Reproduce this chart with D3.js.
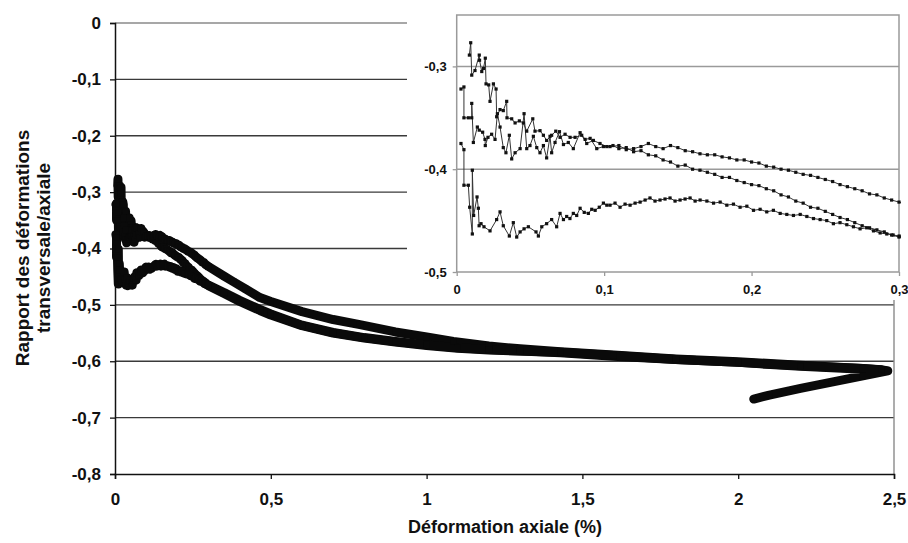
<!DOCTYPE html>
<html>
<head>
<meta charset="utf-8">
<script src="https://cdn.jsdelivr.net/npm/d3@7"></script>
<style>
  body { margin: 0; background: #fff; }
  svg { display: block; font-family: Arial, "Liberation Sans", sans-serif; }
  .tick text { font-weight: bold; }
</style>
</head>
<body>
<svg id="chart" width="908" height="543"></svg>
<script>
// tick values
const mainXTicks = [0, 0.5, 1, 1.5, 2, 2.5];
const mainYTicks = [0, -0.1, -0.2, -0.3, -0.4, -0.5, -0.6, -0.7, -0.8];
const insetXTicks = [0, 0.1, 0.2, 0.3];
const insetYTicks = [-0.3, -0.4, -0.5];

// three loading curves, [axial strain %, ratio]
const curveA = [
  [0.0086,-0.289],[0.0095,-0.277],[0.0102,-0.3085],[0.0124,-0.304],[0.0153,-0.289],[0.0155,-0.294],
  [0.0170,-0.305],[0.0182,-0.302],[0.0194,-0.292],[0.0199,-0.317],[0.0217,-0.318],[0.0226,-0.334],
  [0.0249,-0.317],[0.0267,-0.322],[0.0271,-0.349],[0.0294,-0.342],[0.0316,-0.343],[0.0339,-0.334],
  [0.0341,-0.350],[0.0373,-0.351],[0.0396,-0.355],[0.0425,-0.353],[0.0452,-0.355],[0.0475,-0.363],
  [0.0516,-0.351],[0.0531,-0.363],[0.0565,-0.3625],[0.0588,-0.367],[0.0610,-0.372],[0.0644,-0.367],
  [0.0672,-0.363],[0.0701,-0.369],[0.0735,-0.366],[0.0769,-0.369],[0.0803,-0.369],[0.0848,-0.367],
  [0.0882,-0.375],[0.0927,-0.372],[0.0972,-0.375],[0.1018,-0.378],
  [0.106,-0.377],[0.11,-0.380],[0.115,-0.379],[0.12,-0.383],[0.125,-0.382],[0.13,-0.386],
  [0.135,-0.387],[0.14,-0.391],[0.145,-0.393],[0.15,-0.397],[0.155,-0.396],[0.16,-0.400],
  [0.165,-0.401],[0.17,-0.403],[0.175,-0.405],[0.18,-0.408],[0.185,-0.408],[0.19,-0.411],
  [0.195,-0.413],[0.20,-0.415],[0.205,-0.416],[0.21,-0.419],[0.215,-0.421],[0.22,-0.425],
  [0.225,-0.427],[0.23,-0.431],[0.235,-0.433],[0.24,-0.437],[0.245,-0.438],[0.25,-0.441],
  [0.255,-0.444],[0.26,-0.447],[0.265,-0.449],[0.27,-0.452],[0.275,-0.455],[0.28,-0.457],
  [0.285,-0.459],[0.29,-0.461],[0.295,-0.464],[0.30,-0.466],
  [0.35,-0.480],[0.40,-0.494],[0.465,-0.510],[0.5,-0.518],[0.6,-0.537],[0.7,-0.550],[0.8,-0.559],
  [0.9,-0.566],[1.0,-0.572],[1.1,-0.577],[1.2,-0.580],[1.3,-0.582],[1.43,-0.585],[1.6,-0.591],
  [1.8,-0.597],[2.0,-0.602],[2.2,-0.608],[2.4,-0.613],[2.47,-0.616]
];
const curveB = [
  [0.0029,-0.322],[0.0049,-0.320],[0.0049,-0.350],[0.0079,-0.350],[0.0102,-0.350],[0.0102,-0.336],
  [0.0113,-0.374],[0.0140,-0.359],[0.0153,-0.362],[0.0176,-0.364],[0.0192,-0.371],[0.0194,-0.377],
  [0.0212,-0.369],[0.0237,-0.366],[0.0260,-0.371],[0.0276,-0.346],[0.0294,-0.359],[0.0316,-0.379],
  [0.0334,-0.384],[0.0357,-0.367],[0.0373,-0.390],[0.0396,-0.384],[0.0430,-0.380],[0.0457,-0.346],
  [0.0475,-0.380],[0.0497,-0.377],[0.0520,-0.368],[0.0543,-0.379],[0.0565,-0.384],[0.0588,-0.377],
  [0.0610,-0.389],[0.0633,-0.368],[0.0644,-0.384],[0.0667,-0.374],[0.0697,-0.3635],[0.0724,-0.376],
  [0.0757,-0.374],[0.0791,-0.380],[0.0837,-0.3645],[0.0871,-0.371],[0.0905,-0.370],[0.0950,-0.380],
  [0.0995,-0.378],[0.1040,-0.378],
  [0.11,-0.377],[0.115,-0.381],[0.12,-0.380],[0.125,-0.378],[0.13,-0.375],[0.135,-0.378],
  [0.14,-0.380],[0.145,-0.377],[0.15,-0.379],[0.155,-0.382],[0.16,-0.383],[0.165,-0.385],
  [0.17,-0.386],[0.175,-0.386],[0.18,-0.388],[0.185,-0.389],[0.19,-0.391],[0.195,-0.391],
  [0.20,-0.393],[0.205,-0.394],[0.21,-0.397],[0.215,-0.398],[0.22,-0.400],[0.225,-0.401],
  [0.23,-0.403],[0.235,-0.405],[0.24,-0.406],[0.245,-0.408],[0.25,-0.410],[0.255,-0.412],
  [0.26,-0.415],[0.265,-0.417],[0.27,-0.419],[0.275,-0.421],[0.28,-0.424],[0.285,-0.425],
  [0.29,-0.428],[0.295,-0.430],[0.30,-0.432],
  [0.35,-0.449],[0.38,-0.459],[0.42,-0.472],[0.465,-0.487],[0.5,-0.494],[0.6,-0.512],[0.7,-0.526],
  [0.786,-0.535],[0.9,-0.548],[1.0,-0.557],[1.086,-0.565],[1.2,-0.573],[1.3,-0.578],[1.43,-0.583],
  [1.6,-0.589],[1.8,-0.596],[2.0,-0.601],[2.2,-0.607],[2.4,-0.613],[2.46,-0.615]
];
const curveC = [
  [0.0029,-0.375],[0.0049,-0.381],[0.0049,-0.4156],[0.0079,-0.4156],[0.0088,-0.437],[0.0106,-0.463],
  [0.0106,-0.401],[0.0115,-0.445],[0.0138,-0.427],[0.0147,-0.438],[0.0152,-0.455],[0.0165,-0.453],
  [0.0185,-0.456],[0.0226,-0.460],[0.0271,-0.449],[0.0294,-0.4415],[0.0316,-0.455],[0.0357,-0.465],
  [0.0384,-0.452],[0.0407,-0.466],[0.0430,-0.461],[0.0457,-0.458],[0.0486,-0.456],[0.0538,-0.461],
  [0.0554,-0.465],[0.0577,-0.456],[0.0610,-0.453],[0.0644,-0.449],[0.0678,-0.456],[0.0701,-0.443],
  [0.0724,-0.449],[0.0746,-0.446],[0.0768,-0.448],[0.0791,-0.443],[0.0814,-0.445],[0.0837,-0.438],
  [0.0865,-0.442],[0.0893,-0.443],[0.0916,-0.439],[0.0939,-0.440],[0.0967,-0.437],[0.0995,-0.433],
  [0.1018,-0.435],[0.1040,-0.435],[0.1074,-0.433],[0.1108,-0.437],[0.1142,-0.434],[0.1176,-0.435],
  [0.1210,-0.433],[0.1244,-0.432],[0.1278,-0.430],[0.1311,-0.428],[0.1345,-0.431],[0.1379,-0.430],
  [0.1413,-0.429],[0.1447,-0.428],[0.1481,-0.431],[0.1515,-0.430],[0.1549,-0.429],[0.1583,-0.428],
  [0.1617,-0.431],[0.1651,-0.430],[0.1697,-0.431],[0.1742,-0.433],[0.1787,-0.432],[0.1832,-0.435],
  [0.1877,-0.434],[0.1922,-0.437],[0.1968,-0.436],[0.2013,-0.440],[0.2058,-0.439],[0.2103,-0.4415],
  [0.2148,-0.440],[0.2194,-0.443],[0.2239,-0.444],[0.2284,-0.445],[0.2330,-0.444],[0.2375,-0.446],
  [0.2420,-0.448],[0.2465,-0.449],[0.2510,-0.450],[0.2555,-0.453],[0.2600,-0.452],[0.2646,-0.454],
  [0.2691,-0.456],[0.2736,-0.458],[0.2781,-0.457],[0.2827,-0.460],[0.2872,-0.462],[0.2917,-0.463],
  [0.2960,-0.464],[0.3001,-0.465],
  [0.35,-0.478],[0.40,-0.492],[0.465,-0.508],[0.5,-0.516],[0.6,-0.536],[0.7,-0.549],[0.8,-0.558],
  [0.9,-0.565],[1.0,-0.571],[1.1,-0.576],[1.2,-0.579],[1.3,-0.582],[1.43,-0.584],[1.6,-0.590],
  [1.8,-0.597],[2.0,-0.602],[2.2,-0.609],[2.4,-0.614],[2.48,-0.617],
  [2.4,-0.626],[2.3,-0.637],[2.2,-0.648],[2.1,-0.660],[2.05,-0.667]
];
const curves = [curveA, curveB, curveC];

const fr = d3.formatLocale({decimal: ",", thousands: " ", grouping: [3], currency: ["", " €"], minus: "-"});
const fmt = d => d === 0 ? "0" : fr.format("~g")(d);

const svg = d3.select("#chart");
svg.append("rect").attr("width", 908).attr("height", 543).attr("fill", "#fff");

// main chart
const x = d3.scaleLinear().domain([0, 2.5]).range([115, 894]);
const y = d3.scaleLinear().domain([-0.8, 0]).range([474, 23]);

// grid lines
svg.selectAll(".grid")
  .data(mainYTicks.filter(d => d > -0.8))
  .enter()
  .append("line")
  .attr("class", "grid")
  .attr("x1", x(0)).attr("x2", x(2.5))
  .attr("y1", d => y(d)).attr("y2", d => y(d))
  .attr("stroke", d => d === 0 ? "#8a8a8a" : "#3a3a3a")
  .attr("stroke-width", 1.4);

svg.append("line") // right border of the plot area
  .attr("x1", x(2.5)).attr("x2", x(2.5))
  .attr("y1", y(0)).attr("y2", y(-0.8))
  .attr("stroke", "#8a8a8a").attr("stroke-width", 1.4);

let yAxis = svg.append("g")
  .attr("transform", "translate(" + x(0) + ",0)")
  .call(d3.axisLeft(y).tickValues(mainYTicks).tickSize(5).tickPadding(9).tickFormat(fmt));
let xAxis = svg.append("g")
  .attr("transform", "translate(0," + y(-0.8) + ")")
  .call(d3.axisBottom(x).tickValues(mainXTicks).tickSize(5).tickPadding(14).tickFormat(fmt));

[yAxis, xAxis].forEach(g => {
  g.attr("font-size", 17).attr("font-family", "Arial, 'Liberation Sans', sans-serif");
  g.select(".domain").attr("stroke", "#111").attr("stroke-width", 1.5);
  g.selectAll(".tick line").attr("stroke", "#111").attr("stroke-width", 1.3);
  g.selectAll(".tick text")
    .attr("fill", "#111")
    .attr("font-weight", "bold");
});

let mainLine = d3.line().x(d => x(d[0])).y(d => y(d[1]));

svg.selectAll(".band")
  .data(curves)
  .enter()
  .append("path")
  .attr("class", "band")
  .attr("d", mainLine)
  .attr("fill", "none")
  .attr("stroke", "#0a0a0a")
  .attr("stroke-width", 9)
  .attr("stroke-linejoin", "round")
  .attr("stroke-linecap", "round");

curves.forEach(c => {
  svg.append("g").selectAll("path")
    .data(c)
    .enter()
    .append("path")
    .attr("d", d3.symbol().type(d3.symbolSquare).size(40))
    .attr("transform", d => "translate(" + x(d[0]) + "," + y(d[1]) + ")")
    .attr("fill", "#0a0a0a");
});

// axis titles
svg.append("text")
  .attr("x", 505).attr("y", 533)
  .attr("text-anchor", "middle")
  .attr("font-size", 18)
  .attr("font-weight", "bold")
  .attr("fill", "#111")
  .text("Déformation axiale (%)");

svg.append("text")
  .attr("transform", "translate(29,248) rotate(-90)")
  .attr("text-anchor", "middle")
  .attr("font-size", 19)
  .attr("font-weight", "bold")
  .attr("fill", "#111")
  .text("Rapport des déformations");
svg.append("text")
  .attr("transform", "translate(50,248) rotate(-90)")
  .attr("text-anchor", "middle")
  .attr("font-size", 19)
  .attr("font-weight", "bold")
  .attr("fill", "#111")
  .text("transversale/axiale");

// inset chart (zoom on the first 0.3 %)
let inset = svg.append("g").attr("class", "inset");
inset.append("rect")
  .attr("x", 407).attr("y", 0).attr("width", 501).attr("height", 300)
  .attr("fill", "#fff");

const xi = d3.scaleLinear().domain([0, 0.3]).range([456.7, 899]);
const yi = d3.scaleLinear().domain([-0.5, -0.25]).range([272, 15]);

inset.selectAll(".igrid")
  .data([-0.3, -0.4])
  .enter()
  .append("line")
  .attr("x1", xi(0)).attr("x2", xi(0.3))
  .attr("y1", d => yi(d)).attr("y2", d => yi(d))
  .attr("stroke", "#9a9a9a").attr("stroke-width", 1.5);

inset.append("rect")
  .attr("x", xi(0)).attr("y", yi(-0.25))
  .attr("width", xi(0.3) - xi(0)).attr("height", yi(-0.5) - yi(-0.25))
  .attr("fill", "none").attr("stroke", "#9a9a9a").attr("stroke-width", 1.5);

let yiAxis = inset.append("g")
  .attr("transform", "translate(" + xi(0) + ",0)")
  .call(d3.axisLeft(yi).tickValues(insetYTicks).tickSize(4).tickPadding(6).tickFormat(fmt));
let xiAxis = inset.append("g")
  .attr("transform", "translate(0," + yi(-0.5) + ")")
  .call(d3.axisBottom(xi).tickValues(insetXTicks).tickSize(4).tickPadding(9).tickFormat(fmt));

[yiAxis, xiAxis].forEach(g => {
  g.attr("font-size", 13).attr("font-family", "Arial, 'Liberation Sans', sans-serif");
  g.select(".domain").remove();
  g.selectAll(".tick line").attr("stroke", "#9a9a9a").attr("stroke-width", 1.3);
  g.selectAll(".tick text")
    .attr("fill", "#111")
    .attr("font-weight", "bold");
});

inset.append("clipPath").attr("id", "insetClip")
  .append("rect")
  .attr("x", xi(0)).attr("y", yi(-0.25))
  .attr("width", xi(0.3) - xi(0) + 2).attr("height", yi(-0.5) - yi(-0.25));

let insetPlot = inset.append("g").attr("clip-path", "url(#insetClip)");
let insetLine = d3.line().x(d => xi(d[0])).y(d => yi(d[1]));

insetPlot.selectAll(".iline")
  .data(curves)
  .enter()
  .append("path")
  .attr("class", "iline")
  .attr("d", insetLine)
  .attr("fill", "none")
  .attr("stroke", "#333")
  .attr("stroke-width", 1);

curves.forEach(c => {
  insetPlot.append("g").selectAll("rect")
    .data(c.filter(d => d[0] <= 0.31))
    .enter()
    .append("rect")
    .attr("x", d => xi(d[0]) - 1.6)
    .attr("y", d => yi(d[1]) - 1.6)
    .attr("width", 3.2).attr("height", 3.2)
    .attr("fill", "#111");
});
</script>
</body>
</html>
